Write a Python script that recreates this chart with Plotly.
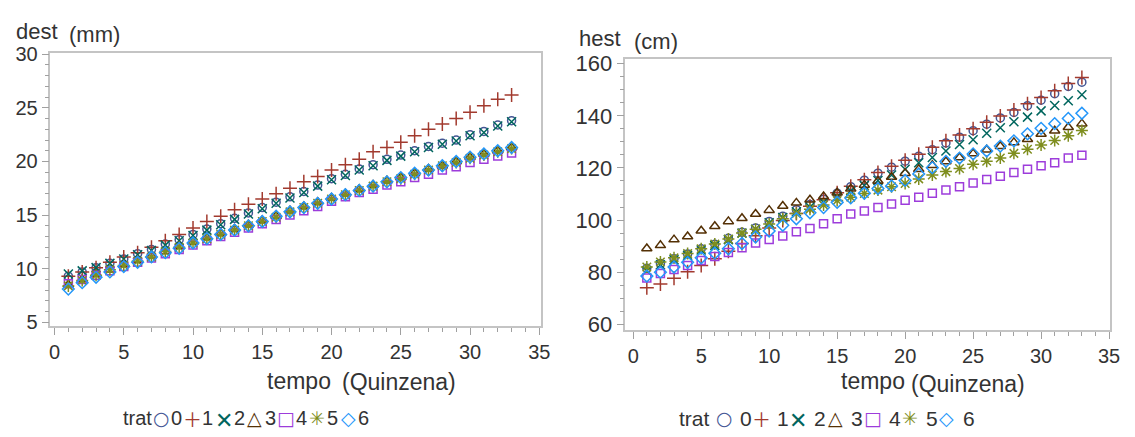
import plotly.graph_objects as go

W, H = 1135, 437

tempo = list(range(1, 34))
trat = ["0", "1", "2", "3", "4", "5", "6"]

# dest (mm) per trat
dest_0 = [9.3, 9.7, 10.1, 10.5, 10.9, 11.4, 11.8, 12.3, 12.7, 13.2, 13.7, 14.2, 14.7, 15.2, 15.7, 16.2, 16.7, 17.2, 17.8, 18.4, 18.8, 19.3, 19.7, 20.2, 20.6, 21.0, 21.4, 21.7, 22.0, 22.5, 22.8, 23.4, 23.8]
dest_1 = [9.3, 9.7, 10.1, 10.6, 11.1, 11.5, 12.0, 12.6, 13.2, 13.8, 14.4, 14.9, 15.5, 16.0, 16.5, 17.0, 17.5, 18.1, 18.6, 19.2, 19.7, 20.2, 20.9, 21.3, 21.8, 22.4, 23.0, 23.5, 24.0, 24.6, 25.2, 25.8, 26.2]
dest_2 = [9.5, 9.8, 10.1, 10.5, 10.9, 11.3, 11.7, 12.2, 12.6, 13.1, 13.6, 14.1, 14.6, 15.1, 15.6, 16.1, 16.6, 17.1, 17.7, 18.3, 18.7, 19.2, 19.6, 20.1, 20.5, 20.9, 21.3, 21.6, 21.9, 22.4, 22.7, 23.3, 23.7]
dest_3 = [8.5, 9.0, 9.5, 9.9, 10.4, 10.8, 11.2, 11.6, 12.1, 12.5, 12.9, 13.3, 13.7, 14.1, 14.5, 14.9, 15.4, 15.8, 16.2, 16.6, 17.0, 17.4, 17.8, 18.2, 18.5, 18.9, 19.3, 19.6, 20.0, 20.4, 20.7, 21.0, 21.3]
dest_4 = [8.6, 9.0, 9.4, 9.8, 10.2, 10.6, 11.0, 11.4, 11.8, 12.2, 12.6, 13.0, 13.4, 13.8, 14.2, 14.6, 15.0, 15.4, 15.8, 16.3, 16.7, 17.1, 17.4, 17.8, 18.1, 18.5, 18.8, 19.2, 19.5, 19.9, 20.2, 20.5, 20.8]
dest_5 = [8.4, 8.9, 9.4, 9.9, 10.3, 10.7, 11.1, 11.6, 12.0, 12.4, 12.8, 13.2, 13.6, 14.0, 14.4, 14.8, 15.3, 15.7, 16.1, 16.5, 16.9, 17.3, 17.7, 18.1, 18.4, 18.8, 19.2, 19.6, 19.9, 20.3, 20.6, 20.9, 21.2]
dest_6 = [8.1, 8.7, 9.2, 9.7, 10.2, 10.6, 11.1, 11.5, 11.9, 12.4, 12.8, 13.2, 13.6, 14.0, 14.4, 14.9, 15.3, 15.7, 16.1, 16.5, 16.9, 17.3, 17.7, 18.1, 18.5, 18.9, 19.2, 19.6, 20.0, 20.4, 20.7, 21.0, 21.3]

# hest (cm) per trat
hest_0 = [81.5, 83.3, 85.2, 87.0, 89.0, 90.7, 93.0, 95.3, 97.0, 99.5, 101.5, 104.0, 106.0, 108.0, 110.3, 112.8, 115.3, 118.0, 120.3, 122.6, 124.5, 127.0, 129.6, 131.8, 134.3, 136.8, 139.2, 141.3, 143.9, 146.0, 148.5, 151.3, 152.9]
hest_1 = [74.0, 75.5, 77.7, 80.2, 82.6, 85.2, 88.0, 91.0, 94.0, 97.0, 99.8, 102.5, 105.3, 107.8, 110.5, 113.0, 115.5, 118.3, 120.7, 123.0, 125.3, 127.9, 130.4, 132.6, 135.0, 137.5, 139.9, 142.2, 144.6, 147.0, 149.6, 152.4, 154.7]
hest_2 = [80.5, 82.8, 84.8, 86.5, 88.5, 90.3, 92.5, 95.0, 96.5, 99.0, 101.0, 103.2, 105.0, 106.8, 109.0, 111.2, 113.3, 115.2, 117.3, 119.5, 122.0, 124.0, 126.5, 129.0, 130.8, 133.3, 135.4, 137.7, 139.5, 141.9, 144.0, 145.8, 148.1]
hest_3 = [89.1, 90.3, 92.5, 93.7, 95.9, 97.6, 99.5, 100.7, 102.3, 103.8, 105.4, 106.6, 107.8, 109.1, 110.5, 112.0, 113.5, 115.0, 116.5, 118.0, 119.5, 121.0, 122.5, 124.0, 125.5, 127.0, 128.3, 129.8, 131.0, 133.0, 134.3, 135.6, 137.0]
hest_4 = [77.8, 79.5, 81.0, 82.6, 84.5, 86.0, 87.6, 89.4, 91.2, 92.5, 93.9, 95.5, 96.8, 98.6, 100.5, 102.3, 103.5, 104.8, 106.2, 107.6, 108.8, 110.3, 111.5, 112.8, 114.2, 115.6, 116.8, 118.3, 119.5, 120.8, 122.0, 123.8, 124.9]
hest_5 = [82.0, 83.9, 85.5, 87.2, 89.0, 90.8, 92.7, 95.0, 96.5, 98.5, 100.5, 102.5, 104.2, 105.8, 107.5, 108.8, 110.2, 111.5, 112.8, 114.0, 115.8, 117.3, 118.6, 119.8, 121.4, 122.6, 123.8, 125.6, 127.2, 128.8, 130.5, 132.4, 134.4]
hest_6 = [78.5, 80.0, 82.0, 83.8, 85.5, 87.3, 89.0, 91.0, 93.5, 95.8, 98.0, 100.5, 102.8, 104.8, 106.8, 108.5, 110.3, 112.1, 113.1, 115.2, 117.7, 120.1, 122.5, 123.8, 125.4, 126.5, 128.4, 130.4, 133.1, 135.2, 137.0, 139.0, 141.0]

dest = [dest_0, dest_1, dest_2, dest_3, dest_4, dest_5, dest_6]
hest = [hest_0, hest_1, hest_2, hest_3, hest_4, hest_5, hest_6]

colors = ["#445694", "#A23A2E", "#01665E", "#543005", "#9D3CDB", "#7F8E1F", "#2597FA"]
symbols = ["circle-open", "cross-thin-open", "x-thin-open", "triangle-up-open",
           "square-open", "asterisk-open", "diamond-open"]
sizes = [8, 10, 9, 9, 8, 10, 9]
glyphs = ["\u25CB", "\uFF0B", "\u2715", "\u25B3", "\u25A1", "\u2733", "\u25C7"]
gfonts = ["DejaVu Sans", "Noto Sans CJK SC", "Noto Sans CJK SC", "DejaVu Sans",
          "DejaVu Sans", "DejaVu Sans", "DejaVu Sans"]
gsizes = [19, 19, 22, 19, 19, 19, 19]

fig = go.Figure()
for i, name in enumerate(trat):
    fig.add_trace(go.Scatter(
        x=tempo, y=dest[i], mode="markers", name=name, showlegend=False,
        marker=dict(symbol=symbols[i], size=sizes[i], color=colors[i],
                    line=dict(width=1.5, color=colors[i])),
        xaxis="x", yaxis="y"))
for i, name in enumerate(trat):
    fig.add_trace(go.Scatter(
        x=tempo, y=hest[i], mode="markers", name=name, showlegend=False,
        marker=dict(symbol=symbols[i], size=sizes[i], color=colors[i],
                    line=dict(width=1.5, color=colors[i])),
        xaxis="x2", yaxis="y2"))

def px_x(v):
    return v / W

def px_y(v):
    return 1 - v / H

FONT = "Liberation Sans, Arial, sans-serif"
TXT = "#333333"
AXC = "#a0a0a0"

axis_common = dict(
    showgrid=False, zeroline=False, showline=True, mirror=True,
    linecolor="#c4c4c4", linewidth=1.5, ticks="outside", tickcolor=AXC,
    ticklen=7, tickwidth=1, tickfont=dict(family=FONT, size=20, color=TXT),
)

fig.update_layout(
    width=W, height=H, margin=dict(l=0, r=0, t=0, b=0),
    paper_bgcolor="white", plot_bgcolor="white", showlegend=False,
    xaxis=dict(axis_common, domain=[px_x(49), px_x(545)], range=[-0.29, 35.14],
               tickvals=[0, 5, 10, 15, 20, 25, 30, 35], anchor="y",
               minor=dict(dtick=1, tick0=0, ticks="outside", ticklen=4, tickcolor=AXC)),
    yaxis=dict(axis_common, domain=[px_y(329), px_y(45)], range=[4.64, 30.09],
               tickvals=[5, 10, 15, 20, 25, 30], anchor="x",
               minor=dict(dtick=1, tick0=0, ticks="outside", ticklen=4, tickcolor=AXC)),
    xaxis2=dict(axis_common, domain=[px_x(630), px_x(1120)], range=[-0.58, 35.08],
                tickvals=[0, 5, 10, 15, 20, 25, 30, 35], anchor="y2",
                minor=dict(dtick=1, tick0=0, ticks="outside", ticklen=4, tickcolor=AXC)),
    yaxis2=dict(axis_common, domain=[px_y(333), px_y(51)], range=[57.8, 161.8],
                tickvals=[60, 80, 100, 120, 140, 160], anchor="x2",
                tickfont=dict(family=FONT, size=22, color=TXT),
                minor=dict(dtick=5, tick0=0, ticks="outside", ticklen=4, tickcolor=AXC)),
)

ann = []
def text(x, y, s, size=20, anchor="left", color=TXT, family=FONT):
    ann.append(dict(x=px_x(x), y=px_y(y), xref="paper", yref="paper", text=s,
                    showarrow=False, xanchor=anchor, yanchor="middle",
                    font=dict(family=family, size=size, color=color)))

# axis titles
text(12, 22, "dest", 22)
text(66, 25, "(mm)", 22)
text(581, 30, "hest", 22)
text(637, 33, "(cm)", 22)
text(266, 386, "tempo", 23)
text(342, 387, "(Quinzena)", 23)
text(846, 386, "tempo", 23)
text(917, 389, "(Quinzena)", 23)

# legends (trat)
def legend(x0, y, first, step, gap, size):
    text(x0, y, "trat", size)
    for i, name in enumerate(trat):
        sx = x0 + first + i * step
        text(sx, y, glyphs[i], gsizes[i], anchor="center", color=colors[i], family=gfonts[i])
        text(sx + gap, y, name, size, anchor="left")

legend(120, 425, 41, 31.5, 8, 20)
legend(682, 425, 48, 37.5, 14, 21)

fig.update_layout(annotations=ann)
fig.write_html("out.html")
